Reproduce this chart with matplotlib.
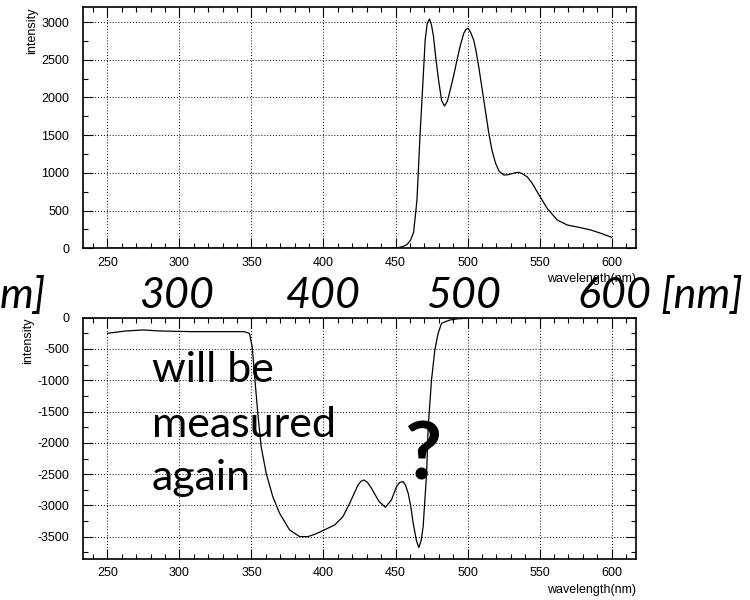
"""Redraw the emission and absorption spectra with the slide notes laid over them."""

import matplotlib

matplotlib.use("Agg")
import matplotlib.pyplot as plt
from matplotlib.ticker import MultipleLocator

# top panel: emission spectrum
emission_nm = [
    250, 300, 350, 400, 440, 447, 452, 455, 458, 460.5, 462.6, 464.9, 467.1, 469, 470.6,
    472, 473.6, 475, 476.4, 478, 479.9, 482, 484, 486, 488, 490.5, 492.7, 495, 497.4,
    499, 500.4, 502, 504.3, 506, 507.8, 511.3, 514.8, 517, 519.5, 522, 525.3, 528,
    530, 533, 535.5, 538, 541.4, 545, 548.3, 555.3, 562.3, 569.3, 578.6, 585.6,
    592.6, 600,
]
emission_intensity = [
    0, 0, 0, 0, 0, 3, 10, 22, 50, 110, 215, 640, 1527, 2188, 2762,
    2980, 3040, 2960, 2806, 2520, 2232, 1960, 1887, 1950, 2099, 2300, 2497, 2690, 2851,
    2905, 2917, 2870, 2762, 2610, 2408, 1966, 1525, 1300, 1127, 1020, 972, 975,
    985, 1000, 1008, 990, 949, 860, 751, 530, 375, 309, 273, 243,
    199, 146,
]

# bottom panel: absorption spectrum
absorption_nm = [
    250, 262.8, 275, 286, 309, 332, 345, 348.6, 350.5, 352, 354.4, 356.7, 360.2,
    364.8, 369.5, 376.4, 383.4, 389.2, 394, 399.6, 407.8, 413.5, 418.2, 424, 426,
    428, 430.5, 433.3, 438.6, 443, 447.2, 450.7, 453, 455.3, 457, 458.8, 460.5,
    462.3, 464.5, 466.2, 467.8, 469.2, 471.6, 472.7, 475, 477.3, 479.6, 482,
    487.8, 493, 500,
]
absorption_intensity = [
    -249, -212, -196, -212, -223, -223, -223, -250, -463, -888, -1527, -2060, -2485,
    -2859, -3124, -3390, -3497, -3497, -3460, -3401, -3311, -3178, -2964, -2672, -2615,
    -2592, -2630, -2725, -2938, -3028, -2911, -2699, -2630, -2619, -2680, -2805, -3000,
    -3284, -3560, -3673, -3560, -3338, -2485, -1741, -995, -516, -249, -89,
    -37, -18, -8,
]

x_ticks = [250, 300, 350, 400, 450, 500, 550, 600]
emission_y_ticks = [0, 500, 1000, 1500, 2000, 2500, 3000]
absorption_y_ticks = [0, -500, -1000, -1500, -2000, -2500, -3000, -3500]

# big slide labels sitting between the panels (pixel x, alignment)
overlay_labels = ["m]", "300", "400", "500", "600 [nm]"]
overlay_x = [0, 177, 323, 464, 578]
overlay_align = ["left", "center", "center", "center", "left"]

note_lines = ["will be", "measured", "again"]
note_baselines = [382, 437, 490]

FIG_W, FIG_H = 750, 600
TICK_FONT = "Liberation Sans"
SLIDE_FONT = ["Lato", "DejaVu Sans"]

plt.rcParams["axes.unicode_minus"] = False


def style_axis(axis, y_ticks):
    """Gnuplot-like frame: inward ticks on all sides and dotted major grid."""

    axis.set_xticks(x_ticks)
    axis.set_yticks(y_ticks)
    axis.xaxis.set_minor_locator(MultipleLocator(10))
    axis.yaxis.set_minor_locator(MultipleLocator(250))
    axis.tick_params(which="both", direction="in", top=True, right=True, width=0.8, labelsize=9)
    axis.tick_params(which="major", length=7)
    axis.tick_params(which="minor", length=3.5)
    axis.tick_params(axis="y", pad=10)
    axis.tick_params(axis="x", pad=6)
    for label in axis.get_xticklabels() + axis.get_yticklabels():
        label.set_fontfamily(TICK_FONT)
    axis.grid(True, which="major", linestyle=(0, (1, 2)), color="black", linewidth=0.7)
    axis.set_axisbelow(True)
    for spine in axis.spines.values():
        spine.set_linewidth(1.2)
    axis.set_xlim(233, 617)
    axis.set_xlabel("wavelength(nm)", loc="right", fontsize=9, family=TICK_FONT, labelpad=3)
    axis.set_ylabel("intensity", loc="top", fontsize=9, family=TICK_FONT, labelpad=2)


def main():
    fig = plt.figure(figsize=(FIG_W / 100, FIG_H / 100), dpi=100)
    left = 83 / FIG_W
    width = (636 - 83) / FIG_W

    top_axis = fig.add_axes([left, 1 - 248.3 / FIG_H, width, 241.3 / FIG_H])
    top_axis.plot(emission_nm, emission_intensity, color="black", linewidth=0.9)
    style_axis(top_axis, emission_y_ticks)
    top_axis.set_ylim(0, 3200)

    bottom_axis = fig.add_axes([left, 1 - 559 / FIG_H, width, 241.3 / FIG_H])
    bottom_axis.plot(absorption_nm, absorption_intensity, color="black", linewidth=0.9)
    style_axis(bottom_axis, absorption_y_ticks)
    bottom_axis.set_ylim(-3855, 0)

    for text, x, align in zip(overlay_labels, overlay_x, overlay_align):
        fig.text(x / FIG_W, 1 - 308 / FIG_H, text, ha=align, va="baseline",
                 fontsize=31, style="italic", family=SLIDE_FONT, zorder=10)

    for text, baseline in zip(note_lines, note_baselines):
        fig.text(152 / FIG_W, 1 - baseline / FIG_H, text, ha="left", va="baseline",
                 fontsize=31, family=SLIDE_FONT, zorder=10)

    fig.text(423 / FIG_W, 1 - 480 / FIG_H, "?", ha="center", va="baseline",
             fontsize=58, fontweight="bold", family=SLIDE_FONT, zorder=10)

    fig.savefig("out.png", dpi=100)
    plt.close(fig)


if __name__ == "__main__":
    main()
